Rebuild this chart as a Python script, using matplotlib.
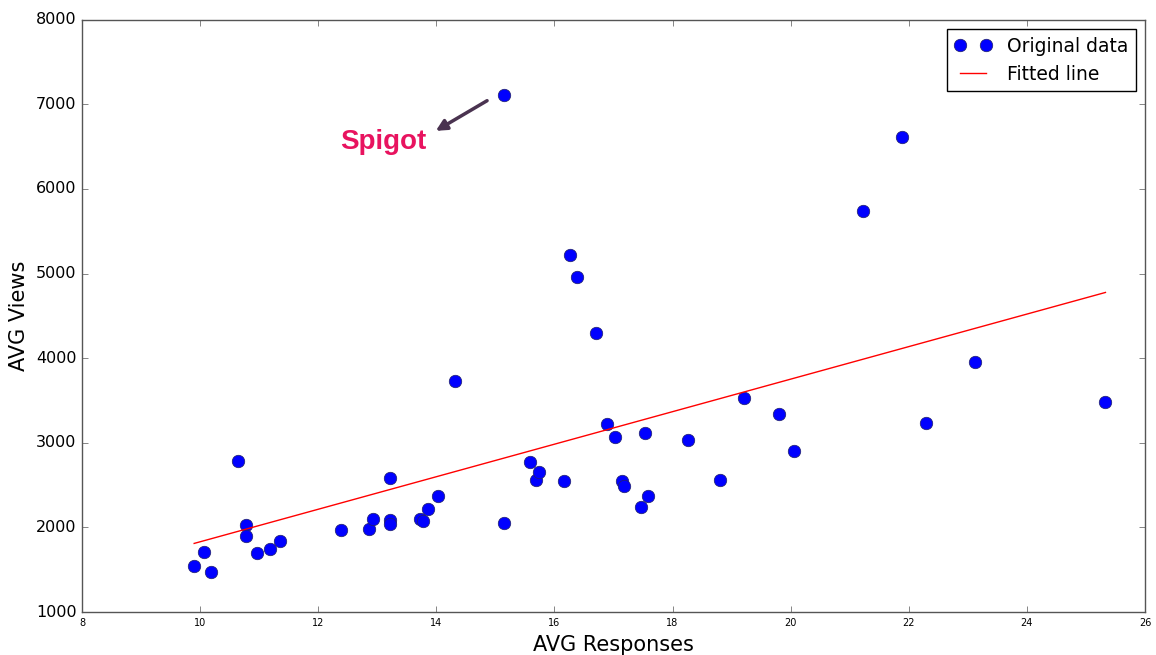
import numpy as np
import matplotlib
matplotlib.use('Agg')
import matplotlib.pyplot as plt

plt.style.use('classic')

## values
avg_responses = [9.90, 10.07, 10.18, 10.65, 10.77, 10.78, 10.97, 11.18, 11.35,
                 12.38, 12.86, 12.93, 13.21, 13.21, 13.22, 13.72, 13.78, 13.86,
                 14.03, 14.32, 15.14, 15.15, 15.58, 15.69, 15.74, 16.17, 16.26,
                 16.39, 16.70, 16.89, 17.02, 17.15, 17.18, 17.53, 17.59, 17.47,
                 18.26, 18.80, 19.21, 19.80, 20.06, 21.23, 21.88, 22.29, 23.12,
                 25.33]
avg_views = [1540, 1715, 1475, 2780, 2030, 1895, 1695, 1745, 1845,
             1970, 1980, 2105, 2085, 2035, 2580, 2095, 2080, 2215,
             2370, 3735, 2055, 7105, 2770, 2560, 2660, 2545, 5215,
             4960, 4295, 3220, 3070, 2545, 2495, 3110, 2370, 2245,
             3035, 2565, 3535, 3345, 2905, 5735, 6615, 3235, 3950,
             3480]

# fitted line (slope, intercept)
fit_slope = 192.2
fit_intercept = -92.0

x = np.array(avg_responses)
y = np.array(avg_views)
xfit = np.array([x.min(), x.max()])
yfit = fit_slope * xfit + fit_intercept

fig = plt.figure(figsize=(11.56, 6.55), dpi=100, facecolor='white')
ax = fig.add_axes([0.0709, 0.0656, 0.9196, 0.9044])
ax.set_facecolor('white')

ax.plot(x, y, 'o', color='blue', markersize=9, markeredgecolor='#222266',
        markeredgewidth=0.5, label='Original data')
ax.plot(xfit, yfit, '-', color='red', lw=1, label='Fitted line')

ax.annotate('Spigot', xy=(13.95, 6669), xytext=(13.10, 6560),
            fontsize=20, fontweight='bold', family='Liberation Sans',
            color='#e8135f', ha='center', va='center')
ax.annotate('', xy=(13.95, 6669), xytext=(14.90, 7059),
            arrowprops=dict(arrowstyle='-|>', lw=2.5, color='#4a3350',
                            mutation_scale=16))

ax.set_xlim(8, 26)
ax.set_ylim(1000, 8000)
ax.set_xticks(np.arange(8, 27, 2))
ax.set_yticks(np.arange(1000, 8001, 1000))
ax.tick_params(axis='x', labelsize=7)
ax.tick_params(axis='y', labelsize=11.5)
ax.tick_params(direction='in', length=4, color='#555555')
for s in ax.spines.values():
    s.set_color('#555555')

ax.set_xlabel('AVG Responses', fontsize=15)
ax.set_ylabel('AVG Views', fontsize=15)

leg = ax.legend(loc='upper right', numpoints=2, fontsize=13.5, fancybox=False,
                handlelength=2.0, handletextpad=0.8, borderaxespad=0.5)
leg.get_frame().set_edgecolor('black')

plt.savefig('out.png', dpi=100, facecolor='white')
